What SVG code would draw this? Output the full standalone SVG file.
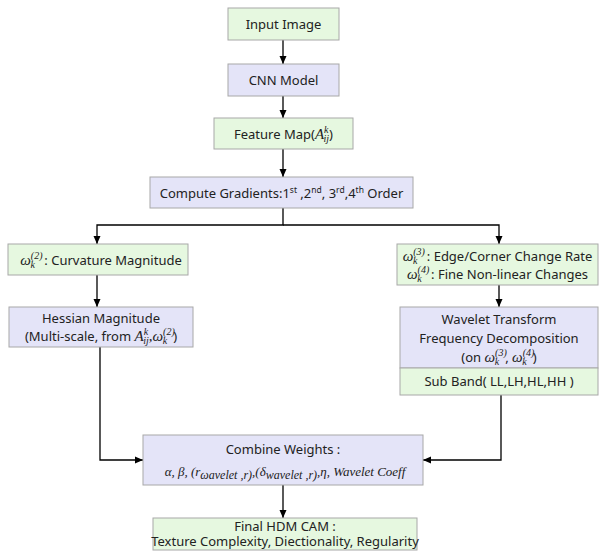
<svg xmlns="http://www.w3.org/2000/svg" width="602" height="553" viewBox="0 0 602 553">
<defs>
<marker id="ah" viewBox="0 0 8 8" refX="8" refY="4" markerWidth="8" markerHeight="8" markerUnits="userSpaceOnUse" orient="auto">
<path d="M0,0.5 L8,4 L0,7.5 Z" fill="#000"/>
</marker>
<style>
.g{fill:#e6f8e0;stroke:#a8a8a8;stroke-width:1}
.p{fill:#e4e4f8;stroke:#a8a8a8;stroke-width:1}
text{font-family:"Noto Sans","Noto Sans CJK KR","Liberation Sans",sans-serif;font-size:13px;fill:#222;text-anchor:middle}
.m{font-family:"Liberation Serif","DejaVu Serif",serif;font-style:italic}
.c{fill:none;stroke:#000;stroke-width:1.3}
</style>
</defs>
<rect width="602" height="553" fill="#fff"/>
<g id="connectors">
<line class="c" x1="283" y1="40" x2="283" y2="64" marker-end="url(#ah)"/>
<line class="c" x1="283" y1="96" x2="283" y2="118" marker-end="url(#ah)"/>
<line class="c" x1="283" y1="149" x2="283" y2="177" marker-end="url(#ah)"/>
<polyline class="c" points="283,208 283,225 97,225 97,244" marker-end="url(#ah)"/>
<polyline class="c" points="283,225 499,225 499,244" marker-end="url(#ah)"/>
<line class="c" x1="97" y1="275" x2="97" y2="307" marker-end="url(#ah)"/>
<line class="c" x1="499" y1="285" x2="499" y2="307" marker-end="url(#ah)"/>
<polyline class="c" points="100,347 100,460 143,460" marker-end="url(#ah)"/>
<polyline class="c" points="501,395 501,460 423,460" marker-end="url(#ah)"/>
<line class="c" x1="283" y1="485" x2="283" y2="518" marker-end="url(#ah)"/>
</g>
<g id="input">
<rect class="g" x="228" y="8" width="111" height="32"/>
<text x="283.5" y="29">Input Image</text>
</g>
<g id="cnn">
<rect class="p" x="228" y="64" width="111" height="32"/>
<text x="283.5" y="85">CNN Model</text>
</g>
<g id="featuremap">
<rect class="g" x="214" y="118" width="139" height="31"/>
<text x="283.5" y="139">Feature Map(<tspan class="m" font-size="15">A</tspan><tspan class="m" font-size="10" dy="-6">k</tspan><tspan class="m" font-size="10" dx="-5" dy="9">ij</tspan><tspan dy="-3">)</tspan></text>
</g>
<g id="gradients">
<rect class="p" x="150" y="177" width="263" height="31"/>
<text x="281.5" y="198">Compute Gradients:1<tspan font-size="8.5" dy="-5">st</tspan><tspan dy="5"> ,2</tspan><tspan font-size="8.5" dy="-5">nd</tspan><tspan dy="5">, 3</tspan><tspan font-size="8.5" dy="-5">rd</tspan><tspan dy="5">,4</tspan><tspan font-size="8.5" dy="-5">th</tspan><tspan dy="5"> Order</tspan></text>
</g>
<g id="curvature">
<rect class="g" x="8" y="244" width="180" height="31"/>
<text x="101" y="265"><tspan class="m" font-size="15">ω</tspan><tspan class="m" font-size="10" dy="-6">(2)</tspan><tspan class="m" font-size="10" dx="-12" dy="9">k</tspan><tspan dx="6" dy="-3"> : Curvature Magnitude</tspan></text>
</g>
<g id="hessian">
<rect class="p" x="9" y="307" width="184" height="40"/>
<text x="101" y="323">Hessian Magnitude</text>
<text x="101" y="341">(Multi-scale, from <tspan class="m" font-size="15">A</tspan><tspan class="m" font-size="10" dy="-6">k</tspan><tspan class="m" font-size="10" dx="-5" dy="9">ij</tspan><tspan class="m" font-size="15" dy="-3">,ω</tspan><tspan class="m" font-size="10" dy="-6">(2)</tspan><tspan class="m" font-size="10" dx="-12" dy="9">k</tspan><tspan dx="6" dy="-3">)</tspan></text>
</g>
<g id="highorder">
<rect class="g" x="397" y="244" width="201" height="41"/>
<text x="497.5" y="261"><tspan class="m" font-size="15">ω</tspan><tspan class="m" font-size="10" dy="-6">(3)</tspan><tspan class="m" font-size="10" dx="-12" dy="9">k</tspan><tspan dx="6" dy="-3"> : Edge/Corner Change Rate</tspan></text>
<text x="497.5" y="279"><tspan class="m" font-size="15">ω</tspan><tspan class="m" font-size="10" dy="-6">(4)</tspan><tspan class="m" font-size="10" dx="-12" dy="9">k</tspan><tspan dx="6" dy="-3"> : Fine Non-linear Changes</tspan></text>
</g>
<g id="wavelet">
<rect class="p" x="400" y="307" width="198" height="61"/>
<text x="499" y="324">Wavelet Transform</text>
<text x="499" y="343">Frequency Decomposition</text>
<text x="499" y="362">(on <tspan class="m" font-size="15">ω</tspan><tspan class="m" font-size="10" dy="-6">(3)</tspan><tspan class="m" font-size="10" dx="-12" dy="9">k</tspan><tspan dx="6" dy="-3">, </tspan><tspan class="m" font-size="15">ω</tspan><tspan class="m" font-size="10" dy="-6">(4)</tspan><tspan class="m" font-size="10" dx="-12" dy="9">k</tspan><tspan dx="6" dy="-3">)</tspan></text>
</g>
<g id="subband">
<rect class="g" x="400" y="368" width="198" height="27"/>
<text x="499" y="386">Sub Band( LL,LH,HL,HH )</text>
</g>
<g id="combine">
<rect class="p" x="143" y="435" width="280" height="50"/>
<text x="283" y="454">Combine Weights :</text>
<text x="285" y="476" class="m" font-size="18.5">α, β, (r<tspan font-size="12" dy="3">ωavelet ,r)</tspan><tspan dy="-3">,(δ</tspan><tspan font-size="12" dy="3">wavelet ,r)</tspan><tspan dy="-3">,η, Wavelet Coeff</tspan></text>
</g>
<g id="final">
<rect class="g" x="153" y="518" width="264" height="32"/>
<text x="285" y="531" font-size="12">Final HDM CAM :</text>
<text x="285" y="546" font-size="12">Texture Complexity, Diectionality, Regularity</text>
</g>
</svg>
